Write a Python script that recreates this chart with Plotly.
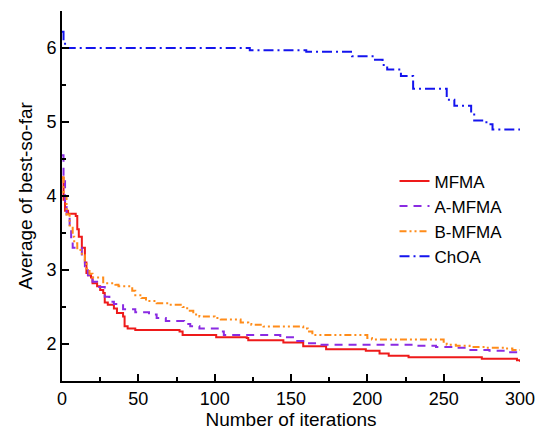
import plotly.graph_objects as go

# MFMA (step breakpoints: iteration, value)
mfma_iter = [0, 1, 2, 4, 9, 10, 11, 13, 15, 16, 17, 19, 20, 23, 25, 27, 28, 30, 34, 36, 40, 41, 43, 48,
             77, 79, 101, 121, 122, 145, 158, 173, 199, 208, 214, 227, 275, 298, 300]
mfma_val = [4.25, 3.95, 3.80, 3.76, 3.73, 3.55, 3.45, 3.30, 3.10, 2.96, 2.93, 2.90, 2.82, 2.78, 2.73, 2.69,
            2.56, 2.53, 2.48, 2.42, 2.37, 2.24, 2.21, 2.19, 2.17, 2.12, 2.09, 2.08, 2.05, 2.02, 1.97, 1.93,
            1.91, 1.87, 1.84, 1.82, 1.80, 1.78, 1.76]

# A-MFMA
amfma_iter = [0, 1, 2, 3, 5, 6, 7, 13, 15, 17, 20, 23, 28, 31, 34, 40, 48, 57, 62, 68, 80, 84, 90, 102,
              106, 143, 152, 160, 170, 230, 245, 256, 266, 280, 292, 300]
amfma_val = [4.55, 4.20, 3.85, 3.75, 3.55, 3.42, 3.30, 3.15, 3.05, 2.93, 2.84, 2.77, 2.64, 2.57, 2.54,
             2.47, 2.43, 2.40, 2.35, 2.31, 2.27, 2.24, 2.21, 2.17, 2.12, 2.09, 2.04, 2.01, 1.99, 1.975,
             1.96, 1.95, 1.92, 1.91, 1.89, 1.885]

# B-MFMA
bmfma_iter = [0, 1, 3, 5, 7, 8, 10, 13, 15, 16, 18, 20, 27, 35, 37, 46, 48, 52, 55, 62, 70, 79, 82, 86,
              90, 100, 104, 117, 122, 124, 132, 158, 161, 164, 200, 203, 250, 252, 258, 267, 278, 290,
              295, 300]
bmfma_val = [4.25, 4.00, 3.75, 3.60, 3.45, 3.36, 3.27, 3.20, 3.08, 3.02, 2.95, 2.90, 2.82, 2.80, 2.78,
             2.72, 2.66, 2.62, 2.58, 2.55, 2.53, 2.50, 2.45, 2.40, 2.37, 2.35, 2.33, 2.29, 2.27, 2.26,
             2.235, 2.21, 2.17, 2.12, 2.08, 2.06, 2.03, 1.99, 1.975, 1.96, 1.95, 1.94, 1.92, 1.92]

# ChOA
choa_iter = [0, 1, 2, 123, 160, 190, 205, 210, 213, 222, 230, 252, 257, 268, 270, 278, 282, 300]
choa_val = [6.22, 6.10, 6.00, 5.97, 5.95, 5.89, 5.84, 5.77, 5.71, 5.62, 5.45, 5.30, 5.22, 5.12, 5.02,
            4.97, 4.90, 4.90]

series = [
    ("MFMA", mfma_iter, mfma_val, "#ee1a1a", "solid"),
    ("A-MFMA", amfma_iter, amfma_val, "#8a2be2", "8px,6px"),
    ("B-MFMA", bmfma_iter, bmfma_val, "#ff8c1a", "7px,3px,2px,3px,2px,3px"),
    ("ChOA", choa_iter, choa_val, "#1414ee", "10px,4px,2px,4px"),
]

fig = go.Figure()
for name, xs, ys, color, dash in series:
    fig.add_trace(go.Scatter(x=xs, y=ys, mode="lines", name=name,
                             line=dict(color=color, width=2, dash=dash, shape="hv")))

font_family = "Liberation Sans, Arial, sans-serif"
fig.update_layout(
    width=541, height=430,
    margin=dict(l=62, r=21, t=11, b=49),
    paper_bgcolor="white", plot_bgcolor="white",
    font=dict(family=font_family, color="black"),
    showlegend=True,
    legend=dict(x=0.726, y=0.588, xanchor="left", yanchor="top",
                font=dict(size=17, family=font_family), bgcolor="rgba(0,0,0,0)"),
    xaxis=dict(range=[0, 300], tickvals=[0, 50, 100, 150, 200, 250, 300],
               ticks="inside", ticklen=7, tickwidth=1.5, tickcolor="black",
               minor=dict(tickvals=[25, 75, 125, 175, 225, 275], ticks="inside", ticklen=4,
                          tickwidth=1.5, tickcolor="black"),
               showline=True, linecolor="black", linewidth=2, showgrid=False, zeroline=False,
               tickfont=dict(size=18), automargin=False,
               title=dict(text="Number of iterations", font=dict(size=19), standoff=3)),
    yaxis=dict(range=[1.5, 6.5], tickvals=[2, 3, 4, 5, 6],
               ticks="inside", ticklen=7, tickwidth=1.5, tickcolor="black",
               minor=dict(tickvals=[2.5, 3.5, 4.5, 5.5, 6.5], ticks="inside", ticklen=4,
                          tickwidth=1.5, tickcolor="black"),
               showline=True, linecolor="black", linewidth=2, showgrid=False, zeroline=False,
               tickfont=dict(size=18), automargin=False,
               title=dict(text="Average of best-so-far", font=dict(size=19), standoff=9)),
)

fig.write_html("out.html", post_script="document.body.style.margin='0';",
               config={"displayModeBar": False})
